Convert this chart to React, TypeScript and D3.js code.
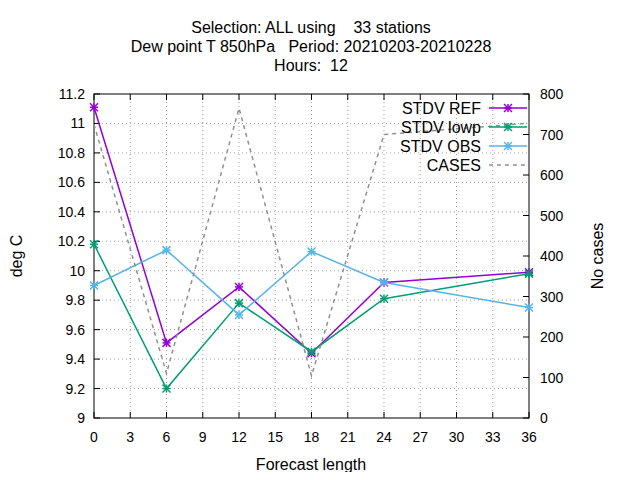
import React, { useEffect, useRef } from 'react';
import * as d3 from 'd3';

const hours = [0, 6, 12, 18, 24, 36];
const stdvRef = [11.11, 9.51, 9.89, 9.44, 9.92, 9.99];
const stdvLowp = [10.18, 9.2, 9.78, 9.45, 9.81, 9.98];
const stdvObs = [9.9, 10.14, 9.7, 10.13, 9.92, 9.75];
const cases = [725, 110, 765, 104, 700, 728];
const titleLines = ['Selection: ALL using    33 stations', 'Dew point T 850hPa   Period: 20210203-20210228', 'Hours:  12'];

const App: React.FC = () => {
  const ref = useRef<SVGSVGElement | null>(null);

  useEffect(() => {
    const svg = d3.select(ref.current);
    svg.selectAll('*').remove();
    const width = 640, height = 480;
    const m = { left: 94, right: 529, top: 94, bottom: 418 };
    const font = 'Liberation Sans, Arial, sans-serif';
    svg.attr('width', width).attr('height', height).style('font-family', font).style('font-size', '14px');
    svg.append('rect').attr('width', width).attr('height', height).attr('fill', 'white');

    const x = d3.scaleLinear().domain([0, 36]).range([m.left, m.right]);
    const y = d3.scaleLinear().domain([9, 11.2]).range([m.bottom, m.top]);
    const y2 = d3.scaleLinear().domain([0, 800]).range([m.bottom, m.top]);
    const xt = d3.range(0, 37, 3);
    const yt = d3.range(0, 12).map(i => +(9 + i * 0.2).toFixed(1));
    const y2t = d3.range(0, 801, 100);

    const grid = svg.append('g').attr('stroke', '#a0a0a0').attr('stroke-dasharray', '1,3').attr('stroke-width', 1);
    xt.slice(1, -1).forEach(t => grid.append('line').attr('x1', x(t)).attr('x2', x(t)).attr('y1', m.top).attr('y2', m.bottom));
    yt.slice(1, -1).forEach(t => grid.append('line').attr('x1', m.left).attr('x2', m.right).attr('y1', y(t)).attr('y2', y(t)));

    const ax = svg.append('g').attr('stroke', 'black').attr('stroke-width', 1);
    ax.append('rect').attr('x', m.left).attr('y', m.top).attr('width', m.right - m.left).attr('height', m.bottom - m.top).attr('fill', 'none');
    xt.forEach(t => {
      ax.append('line').attr('x1', x(t)).attr('x2', x(t)).attr('y1', m.bottom).attr('y2', m.bottom - 6);
      ax.append('line').attr('x1', x(t)).attr('x2', x(t)).attr('y1', m.top).attr('y2', m.top + 6);
      svg.append('text').attr('x', x(t)).attr('y', m.bottom + 24).attr('text-anchor', 'middle').text(t);
    });
    yt.forEach(t => {
      ax.append('line').attr('x1', m.left).attr('x2', m.left + 6).attr('y1', y(t)).attr('y2', y(t));
      svg.append('text').attr('x', m.left - 9).attr('y', y(t) + 5).attr('text-anchor', 'end').text(t);
    });
    y2t.forEach(t => {
      ax.append('line').attr('x1', m.right).attr('x2', m.right - 6).attr('y1', y2(t)).attr('y2', y2(t));
      svg.append('text').attr('x', m.right + 11).attr('y', y2(t) + 5).attr('text-anchor', 'start').text(t);
    });

    titleLines.forEach((s, i) => svg.append('text').attr('x', 311).attr('y', 33 + i * 19)
      .attr('text-anchor', 'middle').style('white-space', 'pre').style('font-size', '16px').text(s));
    svg.append('text').attr('x', 311).attr('y', 470).attr('text-anchor', 'middle').style('font-size', '16px').text('Forecast length');
    svg.append('text').attr('transform', 'translate(22,256) rotate(-90)').attr('text-anchor', 'middle').style('font-size', '16px').text('deg C');
    svg.append('text').attr('transform', 'translate(603,256) rotate(-90)').attr('text-anchor', 'middle').style('font-size', '16px').text('No cases');

    const star = (g: any, cx: number, cy: number, c: string) => {
      const s = 4;
      [[-s, 0, s, 0], [0, -s, 0, s], [-s, -s, s, s], [-s, s, s, -s]].forEach(([a, b, c2, d]) =>
        g.append('line').attr('x1', cx + a).attr('y1', cy + b).attr('x2', cx + c2).attr('y2', cy + d)
          .attr('stroke', c).attr('stroke-width', 1.5));
    };

    const series = [
      { name: 'STDV REF', vals: stdvRef, color: '#9400d3', sc: y, pts: true },
      { name: 'STDV lowp', vals: stdvLowp, color: '#009e73', sc: y, pts: true },
      { name: 'STDV OBS', vals: stdvObs, color: '#56b4e9', sc: y, pts: true },
      { name: 'CASES', vals: cases, color: '#909090', sc: y2, pts: false },
    ];
    const plot = svg.append('g');
    series.forEach((s, i) => {
      const line = d3.line<number>().x((_, j) => x(hours[j])).y(v => s.sc(v));
      const p = plot.append('path').attr('d', line(s.vals)).attr('fill', 'none').attr('stroke', s.color).attr('stroke-width', 1.5);
      if (!s.pts) p.attr('stroke-dasharray', '4,4');
      if (s.pts) s.vals.forEach((v, j) => star(plot, x(hours[j]), s.sc(v), s.color));
      const ly = 108 + i * 19;
      svg.append('text').attr('x', 481).attr('y', ly + 6).attr('text-anchor', 'end').style('font-size', '16px').text(s.name);
      const l = svg.append('line').attr('x1', 489).attr('x2', 527).attr('y1', ly).attr('y2', ly).attr('stroke', s.color).attr('stroke-width', 1.5);
      if (!s.pts) l.attr('stroke-dasharray', '4,4');
      if (s.pts) star(svg, 508, ly, s.color);
    });
  }, []);

  return <svg ref={ref} style={{ display: 'block', margin: '-8px' }}></svg>;
};

export default App;
